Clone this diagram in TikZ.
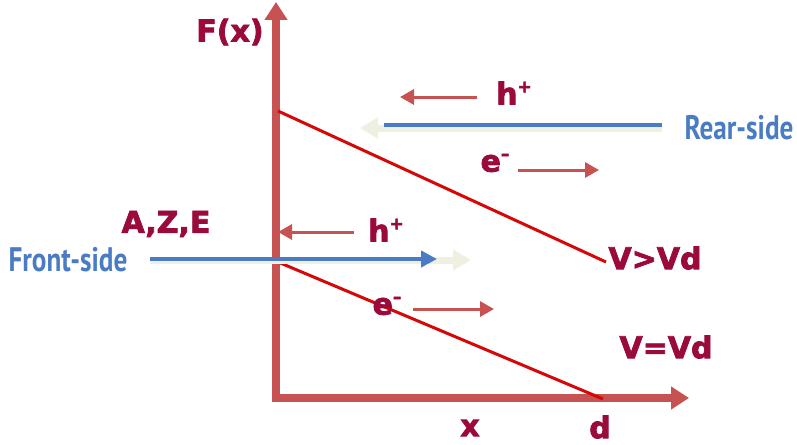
\documentclass[tikz,border=0pt]{standalone}
\usepackage{fontspec}
\setmainfont{DejaVu Sans}
\newfontfamily\heavyfont[FakeBold=2.5]{DejaVu Sans Bold}
\newfontfamily\sidefont[FakeStretch=0.8]{PT Sans Bold}
\usetikzlibrary{arrows.meta}
\definecolor{axisred}{HTML}{C65252}
\definecolor{labelred}{HTML}{9A0A3A}
\definecolor{fieldred}{HTML}{D40808}
\definecolor{beamblue}{HTML}{4A7CC6}
\definecolor{glowcream}{HTML}{EFEFE2}
\newcommand{\chargeup}[1]{\raisebox{0.40em}{\fontsize{17}{17}\selectfont #1}}
\begin{document}
\begin{tikzpicture}[x=1pt, y=-1pt,
  lbl/.style={text=labelred, font=\heavyfont\fontsize{30}{32}\selectfont, inner sep=0pt},
  sidelbl/.style={text=beamblue, font=\sidefont\fontsize{34}{36}\selectfont, inner sep=0pt},
  axisline/.style={axisred, line width=8pt, -{Triangle[length=18pt, width=22pt]}},
  fieldline/.style={fieldred, line width=3pt},
  carrier/.style={axisred, line width=3pt, -{Triangle[length=14pt, width=15pt]}},
  glowline/.style={glowcream, line width=7pt, -{Triangle[length=18pt, width=20pt]}},
  beamline/.style={beamblue, line width=4.5pt}
]
\useasboundingbox (0,0) rectangle (797,444);

% axes
\coordinate (O) at (276,398);
\coordinate (ytop) at (276,2);
\coordinate (xend) at (689,398);
\draw[axisline] (O) -- (ytop);
\draw[axisline] ([xshift=-4pt]O) -- (xend);

% field lines
\coordinate (fa1) at (278,111);
\coordinate (fb1) at (606,262);
\coordinate (fa2) at (278,262);
\coordinate (fb2) at (603,399);
\draw[fieldline] (fa1) -- (fb1);
\draw[fieldline] (fa2) -- (fb2);

% labels
\node[lbl] (fx) at (230,32) {F(x)};
\node[lbl] (htop) at (514,93) {h\chargeup{+}};
\node[lbl] (etop) at (495,163) {e\chargeup{–}};
\node[lbl] (aze) at (166,224) {A,Z,E};
\node[lbl] (hmid) at (386,230) {h\chargeup{+}};
\node[lbl] (emid) at (387,306) {e\chargeup{–}};
\node[lbl] (vgt) at (655,258) {V>Vd};
\node[lbl] (veq) at (666,347) {V=Vd};
\node[lbl] (xlbl) at (470,428) {x};
\node[lbl] (dlbl) at (600,427) {d};
\node[sidelbl] (rear) at (739,128) {Rear-side};
\node[sidelbl] (front) at (68,260) {Front-side};

% carriers
\coordinate (htopstart) at (477,97);
\coordinate (htopend) at (400,97);
\coordinate (etopstart) at (518,170);
\coordinate (etopend) at (599,170);
\coordinate (hmidstart) at (354,232);
\coordinate (hmidend) at (278,232);
\coordinate (emidstart) at (413,309);
\coordinate (emidend) at (494,309);
\draw[carrier] (htopstart) -- (htopend);
\draw[carrier] (etopstart) -- (etopend);
\draw[carrier] (hmidstart) -- (hmidend);
\draw[carrier] (emidstart) -- (emidend);

% light beams
\coordinate (rearstart) at (662,128);
\coordinate (rearend) at (360,128);
\coordinate (frontstart) at (150,260);
\coordinate (frontend) at (471,260);
\draw[glowline] (rearstart) -- (rearend);
\draw[beamline] ([yshift=3pt]rearstart) -- ([xshift=24pt, yshift=3pt]rearend);
\draw[glowline] (frontstart) -- (frontend);
\draw[beamline, -{Triangle[length=16pt, width=16pt]}] ([yshift=1pt]frontstart) -- ([xshift=-34pt, yshift=1pt]frontend);
\end{tikzpicture}
\end{document}
